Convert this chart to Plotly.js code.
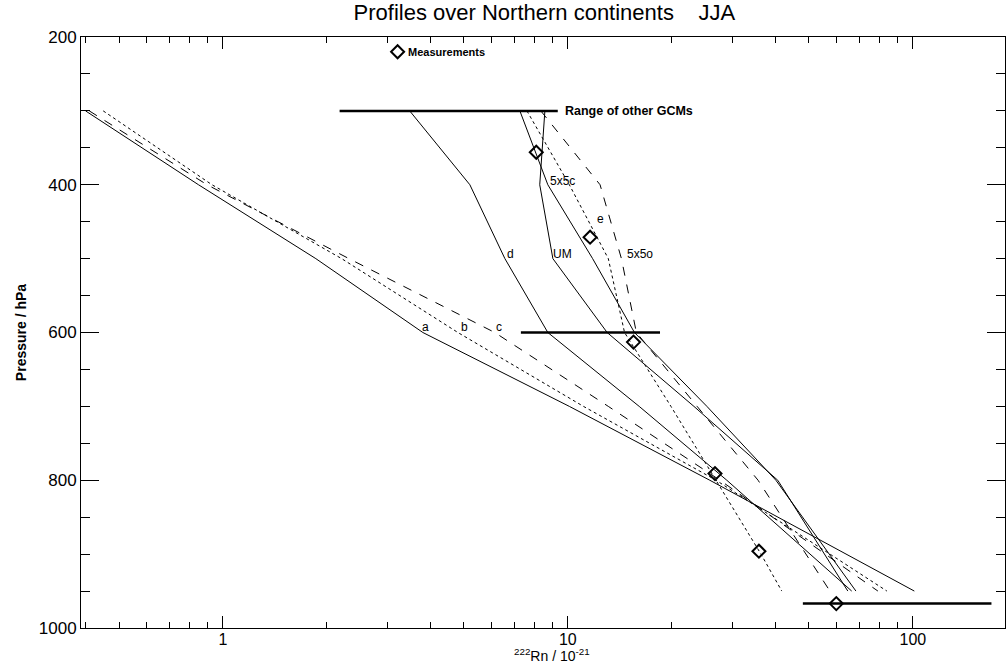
<!DOCTYPE html>
<html>
<head>
<meta charset="utf-8">
<script src="https://cdn.plot.ly/plotly-3.0.1.min.js"></script>
<style>html,body{margin:0;padding:0;background:#fff;}#chart{width:1008px;height:663px;}</style>
</head>
<body>
<div id="chart"></div>
<script>
// ---- data ----
const levelsModel = [300, 400, 500, 600, 700, 800, 950];
const levelsE     = [300, 400, 500, 600, 700, 800, 900, 950];

const seriesA   = [0.40, 0.85, 1.86, 3.80, 10.1, 25.8, 101];
const seriesB   = [0.45, 0.93, 2.21, 4.80, 11.1, 26.9, 84.1];
const seriesC   = [0.41, 0.90, 2.32, 6.14, 13.1, 27.6, 79.2];
const seriesD   = [3.48, 5.20, 6.57, 8.75, 16.1, 28.9, 66.5];
const seriesUM  = [8.58, 8.29, 9.05, 13.0, 23.2, 40.6, 64.8];
const series5x5c= [7.26, 8.75, 11.8, 15.6, 25.3, 40.1, 68.4];
const series5x5o= [8.35, 12.4, 14.3, 15.8, 23.7, 35.6, 57.5];
const seriesE   = [7.61, 10.1, 13.1, 14.6, 19.9, 26.9, 36.3, 41.7];

const measPressure = [356, 471, 613, 791, 896, 967];
const measValue    = [8.1, 11.6, 15.5, 26.7, 35.8, 60];

const rangePressure = [300, 600, 967];
const rangeLow      = [2.18, 7.31, 48];
const rangeHigh     = [9.35, 18.5, 169];

const curveLabels   = ['a', 'b', 'c', 'd', 'UM', '5x5c', 'e', '5x5o'];
const labelValue    = [3.88, 5.03, 6.31, 6.80, 9.67, 9.67, 12.4, 16.2];
const labelPressure = [592, 592, 592, 494, 494, 395, 446, 494];

const legendValue = [3.21];
const legendPressure = [220];

const xTickVals = [1, 10, 100];
const yTickVals = [200, 400, 600, 800, 1000];

// ---- traces ----
const FONT = 'Liberation Sans, Arial, Helvetica, sans-serif';
function line(x, y, dash) {
  return {x: x, y: y, type: 'scatter', mode: 'lines', showlegend: false, hoverinfo: 'skip',
          line: {color: '#000', width: 1, dash: dash}};
}
const traces = [
  line(seriesA, levelsModel, 'solid'),
  line(seriesB, levelsModel, 'dot'),
  line(seriesC, levelsModel, 'dash'),
  line(seriesD, levelsModel, 'solid'),
  line(seriesUM, levelsModel, 'solid'),
  line(series5x5c, levelsModel, 'solid'),
  line(series5x5o, levelsModel, 'dash'),
  line(seriesE, levelsE, 'dot')
];
for (let i = 0; i < rangePressure.length; i++) {
  traces.push({x: [rangeLow[i], rangeHigh[i]], y: [rangePressure[i], rangePressure[i]],
    type: 'scatter', mode: 'lines', showlegend: false, hoverinfo: 'skip',
    line: {color: '#000', width: 2.5}});
}
traces.push({x: measValue, y: measPressure, type: 'scatter', mode: 'markers', showlegend: false,
  marker: {symbol: 'diamond-open', size: 10, color: '#000', line: {width: 2, color: '#000'}}});
traces.push({x: legendValue, y: legendPressure, type: 'scatter', mode: 'markers', showlegend: false,
  marker: {symbol: 'diamond-open', size: 10, color: '#000', line: {width: 2, color: '#000'}}});

const annotations = curveLabels.map((t, i) => ({
  x: Math.log10(labelValue[i]), y: labelPressure[i], text: t, showarrow: false,
  xanchor: 'center', yanchor: 'middle', font: {family: FONT, size: 12, color: '#000'}
}));
annotations.push({x: Math.log10(legendValue[0]) + 0.025, y: legendPressure[0], text: '<b>Measurements</b>',
  showarrow: false, xanchor: 'left', yanchor: 'middle', font: {family: FONT, size: 11, color: '#000'}});
annotations.push({x: Math.log10(rangeHigh[0]) + 0.015, y: rangePressure[0], text: '<b>Range of other GCMs</b>',
  showarrow: false, xanchor: 'left', yanchor: 'middle', font: {family: FONT, size: 12.5, color: '#000'}});
// x-axis title, placed under the tick labels
annotations.push({xref: 'paper', yref: 'paper', x: 0.51, y: 0, yanchor: 'top', yshift: -17, xanchor: 'center',
  text: '<sup>222</sup>Rn / 10<sup>-21</sup>', showarrow: false, borderpad: 0,
  font: {family: FONT, size: 14, color: '#000'}});

const layout = {
  width: 1008, height: 663,
  margin: {l: 81, r: 3, t: 37, b: 35},
  paper_bgcolor: '#fff', plot_bgcolor: '#fff',
  font: {family: FONT, color: '#000'},
  title: {text: 'Profiles over Northern continents    JJA', x: 0.54, xanchor: 'center', y: 0.981, yanchor: 'middle',
          font: {family: FONT, size: 22, color: '#000'}},
  xaxis: {
    type: 'log', range: [Math.log10(0.388), Math.log10(185)],
    tickvals: xTickVals, ticktext: xTickVals.map(String),
    ticks: 'inside', ticklen: 12, tickwidth: 1, tickcolor: '#000',
    minor: {ticks: 'inside', ticklen: 6, tickwidth: 1, tickcolor: '#000', dtick: 'D1', showgrid: false},
    showline: true, linecolor: '#000', linewidth: 1, mirror: 'ticks',
    showgrid: false, zeroline: false, ticklabelstandoff: -3,
    tickfont: {family: FONT, size: 16, color: '#000'}
  },
  yaxis: {
    range: [1000, 200], tickvals: yTickVals,
    ticks: 'inside', ticklen: 18, tickwidth: 1, tickcolor: '#000',
    minor: {ticks: 'inside', ticklen: 9, tickwidth: 1, tickcolor: '#000', dtick: 50, showgrid: false},
    showline: true, linecolor: '#000', linewidth: 1, mirror: 'ticks',
    showgrid: false, zeroline: false,
    tickfont: {family: FONT, size: 17, color: '#000'},
    title: {text: '<b>Pressure / hPa</b>', standoff: 8, font: {family: FONT, size: 14, color: '#000'}}
  },
  annotations: annotations
};
Plotly.newPlot('chart', traces, layout, {staticPlot: true, displayModeBar: false});
</script>
</body>
</html>
